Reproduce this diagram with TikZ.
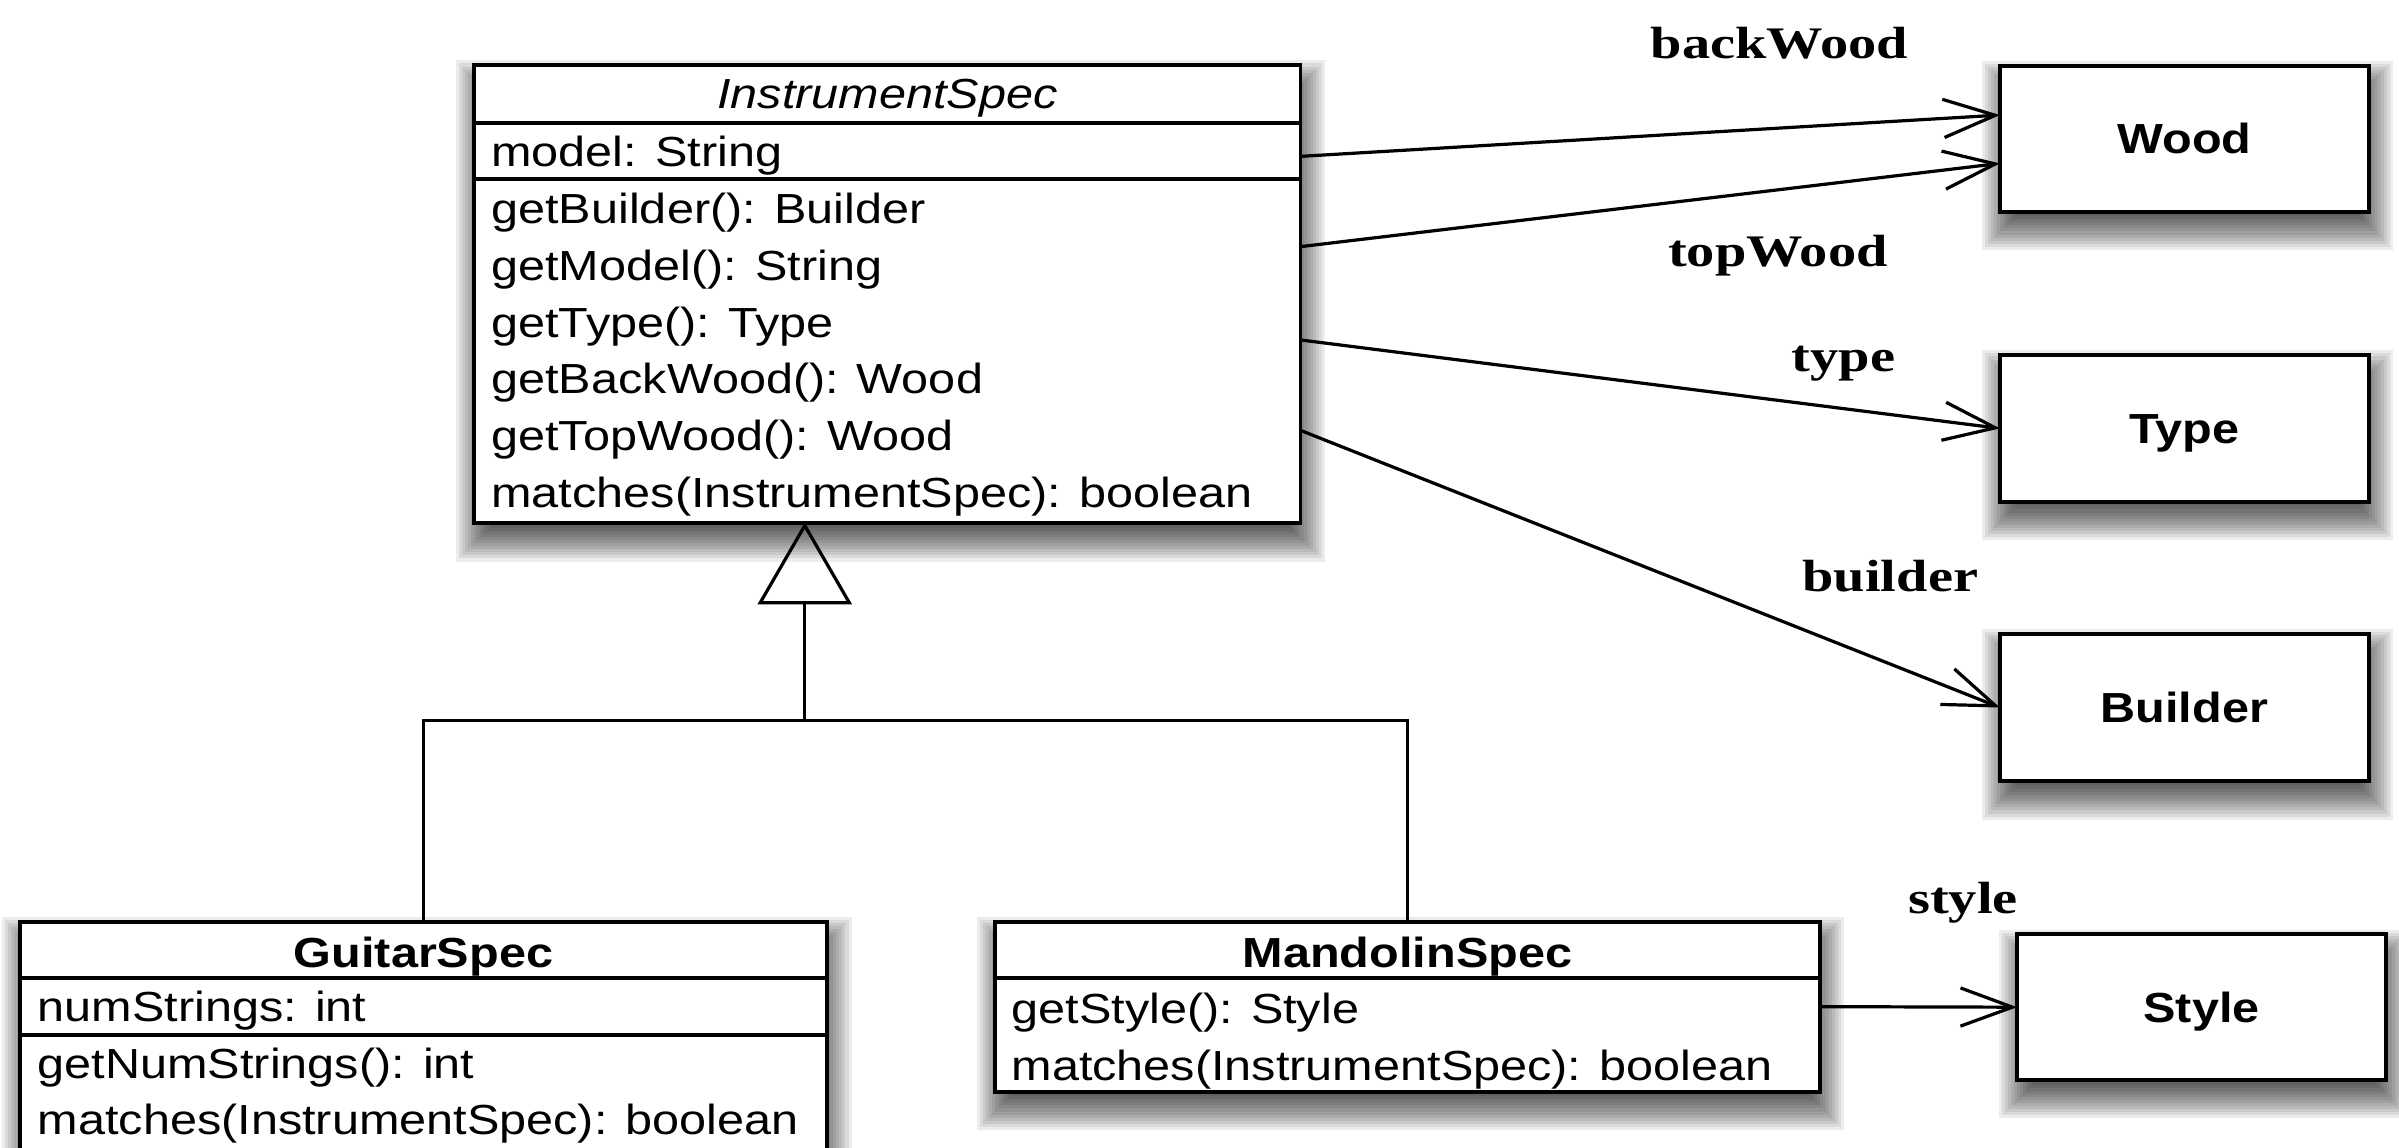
\documentclass[tikz,border=0pt]{standalone}
\usepackage{fontspec}
\setmainfont{Liberation Sans}[FakeStretch=1.155]
\newfontfamily\lblfamily{Liberation Serif}[FakeStretch=1.25]
\usetikzlibrary{arrows.meta,backgrounds,calc}
\newcommand\rowfont{\fontsize{27.5}{33}\selectfont}
\newcommand\lblfont{\lblfamily\bfseries\fontsize{29.5}{35}\selectfont}
\newcommand\boxshadow[1]{%
  \foreach \ee in {14,12,10,8,6,4,2,0,-2,-4,-6,-8,-10,-12}{%
    \fill[black,fill opacity=0.075] ([xshift={(2-(\ee))*1pt},yshift={(-11+(\ee))*1pt}]#1.north west) rectangle ([xshift={(2+(\ee))*1pt},yshift={(-11-(\ee))*1pt}]#1.south east);
  }}
\begin{document}
\begin{tikzpicture}[x=1pt,y=-1pt,
  cls/.style={draw, fill=white, line width=2.5pt, rectangle, inner sep=0pt, outer sep=0pt, anchor=north west},
  simple/.style={cls, minimum width=241pt, font=\rowfont\bfseries, text height=19.7pt, text depth=0pt},
  div/.style={line width=2.4pt},
  row/.style={anchor=base west, inner sep=0pt, font=\rowfont},
  title/.style={anchor=base, inner sep=0pt, font=\rowfont\bfseries},
  lbl/.style={anchor=base, inner sep=0pt, font=\lblfont},
  assoc/.style={line width=2.1pt, -{Straight Barb[length=34pt,width=25pt]}},
  conn/.style={line width=2.1pt},
  gen/.style={line width=2.1pt, line join=miter}]
\useasboundingbox (0,0) rectangle (1568,750);

% InstrumentSpec
\node[cls, minimum width=540pt, minimum height=299.5pt] (inst) at (310,42.5) {};
\draw[div] (310,80.2) -- (850,80.2);
\draw[div] (310,117) -- (850,117);
\node[anchor=base, inner sep=0pt, font=\rowfont\itshape] (instname) at (580,70.6) {InstrumentSpec};
\node[row] (i0) at (321,109) {model: String};
\node[row] (i1) at (321,146.4) {getBuilder(): Builder};
\node[row] (i2) at (321,183.4) {getModel(): String};
\node[row] (i3) at (321,220.4) {getType(): Type};
\node[row] (i4) at (321,257.4) {getBackWood(): Wood};
\node[row] (i5) at (321,294.4) {getTopWood(): Wood};
\node[row] (i6) at (321,331.4) {matches(InstrumentSpec): boolean};

% GuitarSpec
\node[cls, minimum width=527.6pt, minimum height=170pt] (guitar) at (13,602.4) {};
\draw[div] (13,639.3) -- (540.6,639.3);
\draw[div] (13,676.5) -- (540.6,676.5);
\node[title] (guitarname) at (276.8,632.2) {GuitarSpec};
\node[row] (g0) at (24.5,667.8) {numStrings: int};
\node[row] (g1) at (24.5,704.7) {getNumStrings(): int};
\node[row] (g2) at (24.5,741.8) {matches(InstrumentSpec): boolean};

% MandolinSpec
\node[cls, minimum width=539.2pt, minimum height=111.1pt] (mand) at (650.3,602.4) {};
\draw[div] (650.3,639.3) -- (1189.5,639.3);
\node[title] (mandname) at (919.9,632.2) {MandolinSpec};
\node[row] (m0) at (661,669) {getStyle(): Style};
\node[row] (m1) at (661,706) {matches(InstrumentSpec): boolean};

% simple classes
\node[simple, minimum height=95.4pt] (wood) at (1307.2,42.9) {Wood};
\node[simple, minimum height=96pt] (type) at (1307.2,232) {Type};
\node[simple, minimum height=96.5pt] (builder) at (1307.2,414.2) {Builder};
\node[simple, minimum height=95.2pt] (style) at (1318.4,610.7) {Style};

% associations
\draw[assoc] ([yshift=-59.7pt]inst.north east) -- ([yshift=-32.3pt]wood.north west);
\draw[assoc] ([yshift=-118.7pt]inst.north east) -- ([yshift=-63.9pt]wood.north west);
\draw[assoc] ([yshift=-179.7pt]inst.north east) -- (type.west);
\draw[assoc] ([yshift=-238.8pt]inst.north east) -- (builder.west);
\draw[assoc] (mand.east) -- (style.west);

\node[lbl] (lbackwood) at (1163,38) {backWood};
\node[lbl] (ltopwood) at (1162,174.3) {topWood};
\node[lbl] (ltype) at (1205,243) {type};
\node[lbl] (lbuilder) at (1235.5,386.5) {builder};
\node[lbl] (lstyle) at (1283,596.9) {style};

% generalization
\coordinate (apex) at ([xshift=-54pt,yshift=-1.5pt]inst.south);
\coordinate (tribase) at ([yshift=-50.4pt]apex);
\coordinate (junction) at ([yshift=-77pt]tribase);
\draw[gen] (apex) -- ([xshift=-29.1pt]tribase) -- ([xshift=29.1pt]tribase) -- cycle;
\draw[conn] (tribase) -- (junction);
\draw[conn] (guitar.north) |- (junction) -| (mand.north);

\begin{scope}[on background layer]
\fill[white] (0,0) rectangle (1568,750);
\boxshadow{inst}
\boxshadow{guitar}
\boxshadow{mand}
\boxshadow{wood}
\boxshadow{type}
\boxshadow{builder}
\boxshadow{style}
\end{scope}
\end{tikzpicture}
\end{document}
